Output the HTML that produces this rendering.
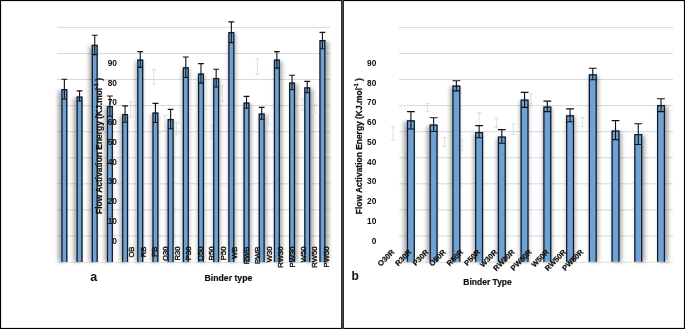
<!DOCTYPE html>
<html><head><meta charset="utf-8"><style>
html,body{margin:0;padding:0;background:#fff;width:685px;height:329px;overflow:hidden}
svg{display:block;will-change:transform}
</style></head><body>
<svg width="685" height="329" viewBox="0 0 685 329">
<defs><filter id="sh" x="-50%" y="-10%" width="200%" height="120%"><feGaussianBlur stdDeviation="2.2"/></filter></defs>
<rect x="0" y="0" width="685" height="329" fill="#fff"/>
<path d="M57 27.4H330M399 27.4H673M57 53.47H330M399 53.47H673M57 79.54H330M399 79.54H673M57 105.61H330M399 105.61H673M57 131.68H330M399 131.68H673M57 157.75H330M399 157.75H673M57 183.82H330M399 183.82H673M57 209.89H330M399 209.89H673M57 235.96H330M399 235.96H673" stroke="#d9d9d9" stroke-width="1" fill="none"/>
<path d="M57 262.5H330M399 262.3H673" stroke="#e4e4e4" stroke-width="1.2" fill="none"/>
<g filter="url(#sh)" fill="#000" opacity="0.36"><rect x="58.23" y="90.6" width="6.6" height="171.4"/><rect x="73.74" y="98" width="6.6" height="164"/><rect x="89.26" y="46.3" width="6.6" height="215.7"/><rect x="104.77" y="107.5" width="6.6" height="154.5"/><rect x="120.28" y="115.5" width="6.6" height="146.5"/><rect x="135.79" y="60.9" width="6.6" height="201.1"/><rect x="151.31" y="113.9" width="6.6" height="148.1"/><rect x="166.82" y="120.6" width="6.6" height="141.4"/><rect x="182.33" y="68.8" width="6.6" height="193.2"/><rect x="197.85" y="74.9" width="6.6" height="187.1"/><rect x="213.36" y="79.5" width="6.6" height="182.5"/><rect x="228.87" y="33.6" width="6.6" height="228.4"/><rect x="244.38" y="104" width="6.6" height="158"/><rect x="259.9" y="114.9" width="6.6" height="147.1"/><rect x="275.41" y="61.1" width="6.6" height="200.9"/><rect x="290.92" y="83.9" width="6.6" height="178.1"/><rect x="306.43" y="88.8" width="6.6" height="173.2"/><rect x="321.95" y="41.6" width="6.6" height="220.4"/><rect x="403.86" y="121.8" width="8.6" height="139.9"/><rect x="427.09" y="126.1" width="8.6" height="135.6"/><rect x="450.33" y="87" width="8.6" height="174.7"/><rect x="473.56" y="133.5" width="8.6" height="128.2"/><rect x="496.8" y="137.9" width="8.6" height="123.8"/><rect x="520.03" y="101.1" width="8.6" height="160.6"/><rect x="543.26" y="107.9" width="8.6" height="153.8"/><rect x="566.5" y="116.7" width="8.6" height="145"/><rect x="589.73" y="75.8" width="8.6" height="185.9"/><rect x="612.97" y="131.9" width="8.6" height="129.8"/><rect x="636.2" y="135.5" width="8.6" height="126.2"/><rect x="659.43" y="106.5" width="8.6" height="155.2"/></g>
<path d="M130.7 102.1V117.1M128.5 102.1H132.9M128.5 117.1H132.9M153.8 69.3V84M151.6 69.3H156M151.6 84H156M165 115.3V130.5M162.8 115.3H167.2M162.8 130.5H167.2M176.7 122.3V134.4M174.5 122.3H178.9M174.5 134.4H178.9M211.4 124.7V138.4M209.2 124.7H213.6M209.2 138.4H213.6M222.4 85.5V101.5M220.2 85.5H224.6M220.2 101.5H224.6M257.4 59V74.2M255.2 59H259.6M255.2 74.2H259.6M268.3 115.2V124.3M266.1 115.2H270.5M266.1 124.3H270.5M302.6 99.1V110.3M300.4 99.1H304.8M300.4 110.3H304.8M314.6 104.6V112.4M312.4 104.6H316.8M312.4 112.4H316.8M393.1 126.4V140.1M390.9 126.4H395.3M390.9 140.1H395.3M427.4 103.4V111.7M425.2 103.4H429.6M425.2 111.7H429.6M444.5 137.6V146.5M442.3 137.6H446.7M442.3 146.5H446.7M462 140V150.4M459.8 140H464.2M459.8 150.4H464.2M479.2 112.7V125.4M477 112.7H481.4M477 125.4H481.4M496.4 118.1V127.3M494.2 118.1H498.6M494.2 127.3H498.6M513.3 124.2V134.5M511.1 124.2H515.5M511.1 134.5H515.5M530.8 94V103.8M528.6 94H533M528.6 103.8H533M582.6 117.6V126.6M580.4 117.6H584.8M580.4 126.6H584.8" stroke="#dadada" stroke-width="0.9" fill="none"/>
<rect x="61.37" y="89.1" width="6" height="172.9" fill="#6fa2d4"/><path d="M61.97 262V89.7H66.77V262" fill="none" stroke="#141a22" stroke-width="1.25"/><rect x="76.55" y="96.5" width="6" height="165.5" fill="#6fa2d4"/><path d="M77.15 262V97.1H81.95V262" fill="none" stroke="#141a22" stroke-width="1.25"/><rect x="91.73" y="44.8" width="6" height="217.2" fill="#6fa2d4"/><path d="M92.33 262V45.4H97.13V262" fill="none" stroke="#141a22" stroke-width="1.25"/><rect x="106.91" y="106" width="6" height="156" fill="#6fa2d4"/><path d="M107.51 262V106.6H112.31V262" fill="none" stroke="#141a22" stroke-width="1.25"/><rect x="122.09" y="114" width="6" height="148" fill="#6fa2d4"/><path d="M122.69 262V114.6H127.49V262" fill="none" stroke="#141a22" stroke-width="1.25"/><rect x="137.26" y="59.4" width="6" height="202.6" fill="#6fa2d4"/><path d="M137.86 262V60H142.66V262" fill="none" stroke="#141a22" stroke-width="1.25"/><rect x="152.44" y="112.4" width="6" height="149.6" fill="#6fa2d4"/><path d="M153.04 262V113H157.84V262" fill="none" stroke="#141a22" stroke-width="1.25"/><rect x="167.62" y="119.1" width="6" height="142.9" fill="#6fa2d4"/><path d="M168.22 262V119.7H173.02V262" fill="none" stroke="#141a22" stroke-width="1.25"/><rect x="182.8" y="67.3" width="6" height="194.7" fill="#6fa2d4"/><path d="M183.4 262V67.9H188.2V262" fill="none" stroke="#141a22" stroke-width="1.25"/><rect x="197.98" y="73.4" width="6" height="188.6" fill="#6fa2d4"/><path d="M198.58 262V74H203.38V262" fill="none" stroke="#141a22" stroke-width="1.25"/><rect x="213.16" y="78" width="6" height="184" fill="#6fa2d4"/><path d="M213.76 262V78.6H218.56V262" fill="none" stroke="#141a22" stroke-width="1.25"/><rect x="228.34" y="32.1" width="6" height="229.9" fill="#6fa2d4"/><path d="M228.94 262V32.7H233.74V262" fill="none" stroke="#141a22" stroke-width="1.25"/><rect x="243.52" y="102.5" width="6" height="159.5" fill="#6fa2d4"/><path d="M244.12 262V103.1H248.92V262" fill="none" stroke="#141a22" stroke-width="1.25"/><rect x="258.7" y="113.4" width="6" height="148.6" fill="#6fa2d4"/><path d="M259.3 262V114H264.1V262" fill="none" stroke="#141a22" stroke-width="1.25"/><rect x="273.88" y="59.6" width="6" height="202.4" fill="#6fa2d4"/><path d="M274.48 262V60.2H279.28V262" fill="none" stroke="#141a22" stroke-width="1.25"/><rect x="289.06" y="82.4" width="6" height="179.6" fill="#6fa2d4"/><path d="M289.66 262V83H294.45V262" fill="none" stroke="#141a22" stroke-width="1.25"/><rect x="304.23" y="87.3" width="6" height="174.7" fill="#6fa2d4"/><path d="M304.83 262V87.9H309.63V262" fill="none" stroke="#141a22" stroke-width="1.25"/><rect x="319.41" y="40.1" width="6" height="221.9" fill="#6fa2d4"/><path d="M320.01 262V40.7H324.81V262" fill="none" stroke="#141a22" stroke-width="1.25"/><rect x="406.9" y="120.3" width="8" height="141.4" fill="#6fa2d4"/><path d="M407.5 261.7V120.9H414.3V261.7" fill="none" stroke="#141a22" stroke-width="1.25"/><rect x="429.64" y="124.6" width="8" height="137.1" fill="#6fa2d4"/><path d="M430.24 261.7V125.2H437.04V261.7" fill="none" stroke="#141a22" stroke-width="1.25"/><rect x="452.37" y="85.5" width="8" height="176.2" fill="#6fa2d4"/><path d="M452.97 261.7V86.1H459.77V261.7" fill="none" stroke="#141a22" stroke-width="1.25"/><rect x="475.11" y="132" width="8" height="129.7" fill="#6fa2d4"/><path d="M475.71 261.7V132.6H482.51V261.7" fill="none" stroke="#141a22" stroke-width="1.25"/><rect x="497.84" y="136.4" width="8" height="125.3" fill="#6fa2d4"/><path d="M498.44 261.7V137H505.24V261.7" fill="none" stroke="#141a22" stroke-width="1.25"/><rect x="520.58" y="99.6" width="8" height="162.1" fill="#6fa2d4"/><path d="M521.18 261.7V100.2H527.98V261.7" fill="none" stroke="#141a22" stroke-width="1.25"/><rect x="543.32" y="106.4" width="8" height="155.3" fill="#6fa2d4"/><path d="M543.92 261.7V107H550.72V261.7" fill="none" stroke="#141a22" stroke-width="1.25"/><rect x="566.05" y="115.2" width="8" height="146.5" fill="#6fa2d4"/><path d="M566.65 261.7V115.8H573.45V261.7" fill="none" stroke="#141a22" stroke-width="1.25"/><rect x="588.79" y="74.3" width="8" height="187.4" fill="#6fa2d4"/><path d="M589.39 261.7V74.9H596.19V261.7" fill="none" stroke="#141a22" stroke-width="1.25"/><rect x="611.52" y="130.4" width="8" height="131.3" fill="#6fa2d4"/><path d="M612.12 261.7V131H618.92V261.7" fill="none" stroke="#141a22" stroke-width="1.25"/><rect x="634.26" y="134" width="8" height="127.7" fill="#6fa2d4"/><path d="M634.86 261.7V134.6H641.66V261.7" fill="none" stroke="#141a22" stroke-width="1.25"/><rect x="657" y="105" width="8" height="156.7" fill="#6fa2d4"/><path d="M657.6 261.7V105.6H664.4V261.7" fill="none" stroke="#141a22" stroke-width="1.25"/>
<path d="M64.37 79.2V99M61.47 79.2H67.27M61.97 99H66.77M79.55 90.9V101M76.65 90.9H82.45M77.15 101H81.95M94.73 35.3V54.6M91.83 35.3H97.63M92.33 54.6H97.13M109.91 96V116.2M107.01 96H112.81M107.51 116.2H112.31M125.09 105.9V122.3M122.19 105.9H127.99M122.69 122.3H127.49M140.26 51.6V67.4M137.36 51.6H143.16M137.86 67.4H142.66M155.44 103.4V122.5M152.54 103.4H158.34M153.04 122.5H157.84M170.62 109.4V128.7M167.72 109.4H173.52M168.22 128.7H173.02M185.8 57V77.5M182.9 57H188.7M183.4 77.5H188.2M200.98 63.6V83.1M198.08 63.6H203.88M198.58 83.1H203.38M216.16 69.2V87M213.26 69.2H219.06M213.76 87H218.56M231.34 21.9V42.6M228.44 21.9H234.24M228.94 42.6H233.74M246.52 96.4V108.3M243.62 96.4H249.42M244.12 108.3H248.92M261.7 107.4V119.2M258.8 107.4H264.6M259.3 119.2H264.1M276.88 51.6V68.1M273.98 51.6H279.78M274.48 68.1H279.28M292.06 75.3V89.7M289.16 75.3H294.95M289.66 89.7H294.45M307.23 81.4V92.8M304.33 81.4H310.13M304.83 92.8H309.63M322.41 32.4V48.7M319.51 32.4H325.31M320.01 48.7H324.81M410.9 111.6V129M407 111.6H414.8M407.5 129H414.3M433.64 117.7V131.5M429.74 117.7H437.54M430.24 131.5H437.04M456.37 80.7V90.9M452.47 80.7H460.27M452.97 90.9H459.77M479.11 125.6V137.8M475.21 125.6H483.01M475.71 137.8H482.51M501.84 129.6V143.3M497.94 129.6H505.74M498.44 143.3H505.24M524.58 92.4V107.4M520.68 92.4H528.48M521.18 107.4H527.98M547.32 101.1V111.6M543.42 101.1H551.22M543.92 111.6H550.72M570.05 108.9V121.8M566.15 108.9H573.95M566.65 121.8H573.45M592.79 68.2V79.7M588.89 68.2H596.69M589.39 79.7H596.19M615.52 120.6V139.6M611.62 120.6H619.42M612.12 139.6H618.92M638.26 123.8V144.5M634.36 123.8H642.16M634.86 144.5H641.66M661 98.7V111.6M657.1 98.7H664.9M657.6 111.6H664.4" stroke="#111" stroke-width="1.1" fill="none"/>
<g font-family="Liberation Sans, sans-serif" font-size="8.3" font-weight="bold" fill="#111"><text x="116.9" y="243.75" text-anchor="end">0</text><text x="376.3" y="243.75" text-anchor="end">0</text><text x="116.9" y="223.98" text-anchor="end">10</text><text x="376.3" y="223.98" text-anchor="end">10</text><text x="116.9" y="204.21" text-anchor="end">20</text><text x="376.3" y="204.21" text-anchor="end">20</text><text x="116.9" y="184.44" text-anchor="end">30</text><text x="376.3" y="184.44" text-anchor="end">30</text><text x="116.9" y="164.67" text-anchor="end">40</text><text x="376.3" y="164.67" text-anchor="end">40</text><text x="116.9" y="144.9" text-anchor="end">50</text><text x="376.3" y="144.9" text-anchor="end">50</text><text x="116.9" y="125.13" text-anchor="end">60</text><text x="376.3" y="125.13" text-anchor="end">60</text><text x="116.9" y="105.36" text-anchor="end">70</text><text x="376.3" y="105.36" text-anchor="end">70</text><text x="116.9" y="85.59" text-anchor="end">80</text><text x="376.3" y="85.59" text-anchor="end">80</text><text x="116.9" y="65.82" text-anchor="end">90</text><text x="376.3" y="65.82" text-anchor="end">90</text></g>
<g font-family="Liberation Sans, sans-serif" font-weight="bold" fill="#111" stroke="#111" stroke-width="0.25"><text transform="translate(102.4 146) rotate(-90)" font-size="8.8" text-anchor="middle" textLength="136" lengthAdjust="spacingAndGlyphs">Flow Activation Energy (KJ.mol<tspan dy="-0.75em" font-size="62%">-1</tspan><tspan dy="0.465em"> )</tspan></text><text transform="translate(362.2 146.2) rotate(-90)" font-size="9.2" text-anchor="middle" textLength="136" lengthAdjust="spacingAndGlyphs">Flow Activation Energy (KJ.mol<tspan dy="-0.75em" font-size="62%">-1</tspan><tspan dy="0.465em"> )</tspan></text></g>
<g font-family="Liberation Sans, sans-serif" font-size="7.7" fill="#111" stroke="#111" stroke-width="0.35"><text transform="translate(134.1 246.5) rotate(-90)" text-anchor="end">OB</text><text transform="translate(145.56 246.5) rotate(-90)" text-anchor="end">RB</text><text transform="translate(157.02 246.5) rotate(-90)" text-anchor="end">PB</text><text transform="translate(168.48 246.5) rotate(-90)" text-anchor="end">O30</text><text transform="translate(179.94 246.5) rotate(-90)" text-anchor="end">R30</text><text transform="translate(191.4 246.5) rotate(-90)" text-anchor="end">P30</text><text transform="translate(202.86 246.5) rotate(-90)" text-anchor="end">O50</text><text transform="translate(214.32 246.5) rotate(-90)" text-anchor="end">R50</text><text transform="translate(225.78 246.5) rotate(-90)" text-anchor="end">P50</text><text transform="translate(237.24 246.5) rotate(-90)" text-anchor="end">WB</text><text transform="translate(248.7 246.5) rotate(-90)" text-anchor="end">RWB</text><text transform="translate(260.16 246.5) rotate(-90)" text-anchor="end">PWB</text><text transform="translate(271.62 246.5) rotate(-90)" text-anchor="end">W30</text><text transform="translate(283.08 246.5) rotate(-90)" text-anchor="end">RW30</text><text transform="translate(294.54 246.5) rotate(-90)" text-anchor="end">PW30</text><text transform="translate(306 246.5) rotate(-90)" text-anchor="end">W50</text><text transform="translate(317.46 246.5) rotate(-90)" text-anchor="end">RW50</text><text transform="translate(328.92 246.5) rotate(-90)" text-anchor="end">PW50</text></g>
<g font-family="Liberation Sans, sans-serif" font-size="7.6" font-weight="bold" fill="#111" stroke="#111" stroke-width="0.2"><text transform="translate(394.8 252.7) rotate(-45)" text-anchor="end">O30R</text><text transform="translate(411.98 252.7) rotate(-45)" text-anchor="end">R30R</text><text transform="translate(429.16 252.7) rotate(-45)" text-anchor="end">P30R</text><text transform="translate(446.34 252.7) rotate(-45)" text-anchor="end">O50R</text><text transform="translate(463.52 252.7) rotate(-45)" text-anchor="end">R50R</text><text transform="translate(480.7 252.7) rotate(-45)" text-anchor="end">P50R</text><text transform="translate(497.88 252.7) rotate(-45)" text-anchor="end">W30R</text><text transform="translate(515.06 252.7) rotate(-45)" text-anchor="end">RW30R</text><text transform="translate(532.24 252.7) rotate(-45)" text-anchor="end">PW30R</text><text transform="translate(549.42 252.7) rotate(-45)" text-anchor="end">W50R</text><text transform="translate(566.6 252.7) rotate(-45)" text-anchor="end">RW50R</text><text transform="translate(583.78 252.7) rotate(-45)" text-anchor="end">PW50R</text></g>
<g font-family="Liberation Sans, sans-serif" font-weight="bold" fill="#111"><text x="204.5" y="280.8" font-size="8.7" stroke="#111" stroke-width="0.2">Binder type</text><text x="463.3" y="285.4" font-size="8.5" stroke="#111" stroke-width="0.2">Binder Type</text><text x="90.3" y="280.8" font-size="12.5">a</text><text x="351.5" y="280.3" font-size="12">b</text></g>
<rect x="0.5" y="0.5" width="684" height="328" fill="none" stroke="#000" stroke-width="1.2"/>
<rect x="341" y="0" width="1" height="329" fill="#2c2c2c"/><rect x="342" y="0" width="1" height="329" fill="#4a4a4a"/><rect x="343" y="0" width="1" height="329" fill="#2c2c2c"/>
</svg>
</body></html>
